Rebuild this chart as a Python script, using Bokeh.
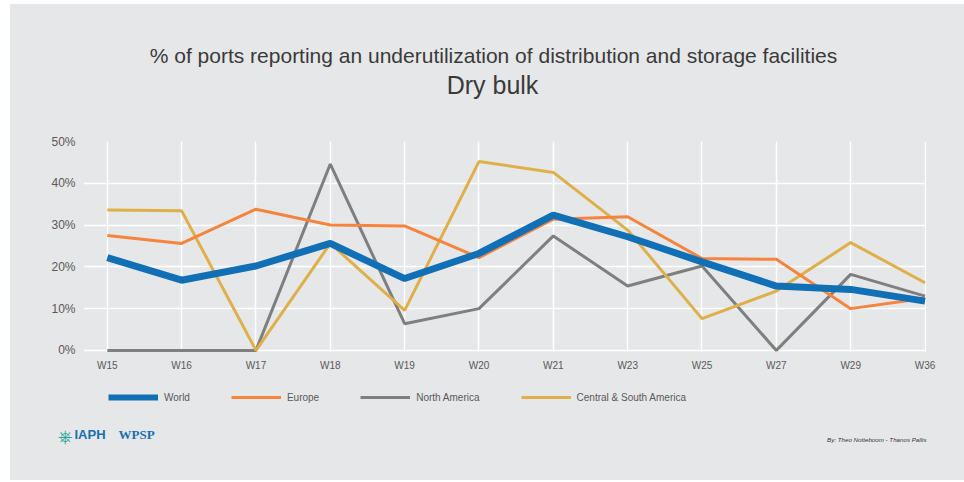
from bokeh.plotting import figure
from bokeh.layouts import column
from bokeh.models import (Range1d, FixedTicker, Legend, LegendItem, Label,
                          PrintfTickFormatter)
from bokeh.embed import file_html
from bokeh.resources import INLINE

# ---- data ----
weeks = ["W15", "W16", "W17", "W18", "W19", "W20", "W21", "W23", "W25", "W27", "W29", "W36"]
world = [22.2, 16.8, 20.2, 25.6, 17.2, 23.2, 32.4, 27.2, 21.2, 15.4, 14.6, 11.8]
europe = [27.5, 25.6, 33.8, 30.0, 29.8, 22.2, 31.4, 32.0, 22.0, 21.8, 10.0, 12.5]
north_america = [0.0, 0.0, 0.0, 44.6, 6.4, 10.0, 27.4, 15.4, 20.2, 0.0, 18.2, 13.0]
central_south = [33.6, 33.4, 0.0, 25.6, 9.6, 45.2, 42.6, 28.8, 7.6, 14.2, 25.8, 16.2]
y_ticks = [0, 10, 20, 30, 40, 50]
series_names = ["World", "Europe", "North America", "Central & South America"]

title_text = "% of ports reporting an underutilization of distribution and storage facilities"
subtitle_text = "Dry bulk"
credit_text = "By: Theo Notteboom - Thanos Pallis"

BG = "#e6e7e8"
TXT = "#595959"
FONT = "Liberation Sans"
COLORS = {"World": "#1170b5", "Europe": "#f5843f",
          "North America": "#7f7f7f", "Central & South America": "#dfb04a"}
WIDTHS = {"World": 7, "Europe": 3, "North America": 3, "Central & South America": 3}

W = 954


def blank(h):
    f = figure(width=W, height=h, output_backend="svg", toolbar_location=None,
               x_range=Range1d(0, W), y_range=Range1d(0, h), min_border=0)
    f.frame_align = False
    f.axis.visible = False
    f.grid.visible = False
    f.outline_line_color = None
    f.background_fill_color = BG
    f.border_fill_color = BG
    return f


# ---- title area ----
top = blank(127)
top.add_layout(Label(x=483, y=76, text=title_text, text_align="center",
                     text_baseline="middle", text_font=FONT,
                     text_font_size="21px", text_color="#3a3a3a"))
top.add_layout(Label(x=482, y=47, text=subtitle_text, text_align="center",
                     text_baseline="middle", text_font=FONT,
                     text_font_size="25px", text_color="#3a3a3a"))

# ---- main chart ----
xs = list(range(len(weeks)))
p = figure(width=W, height=249, output_backend="svg", toolbar_location=None,
           x_range=Range1d(-0.32, 11.02), y_range=Range1d(-0.5, 50.0),
           min_border_left=73, min_border_right=38, min_border_top=10,
           min_border_bottom=28)
p.frame_align = False
p.background_fill_color = BG
p.border_fill_color = BG
p.outline_line_color = None

p.xaxis.ticker = FixedTicker(ticks=xs)
p.xaxis.major_label_overrides = {i: w for i, w in enumerate(weeks)}
p.yaxis.ticker = FixedTicker(ticks=y_ticks)
p.yaxis.formatter = PrintfTickFormatter(format="%d%%")
for ax in (p.xaxis[0], p.yaxis[0]):
    ax.axis_line_color = None
    ax.major_tick_line_color = None
    ax.minor_tick_line_color = None
    ax.major_tick_out = 0
    ax.major_tick_in = 0
    ax.minor_tick_out = 0
    ax.minor_tick_in = 0
    ax.major_label_text_color = TXT
    ax.major_label_text_font = FONT
p.xaxis.major_label_text_font_size = "10px"
p.yaxis.major_label_text_font_size = "12px"
p.xaxis.major_label_standoff = 7
p.yaxis.major_label_standoff = 8

p.xgrid.ticker = FixedTicker(ticks=xs)
p.ygrid.ticker = FixedTicker(ticks=y_ticks)
for g in (p.xgrid[0], p.ygrid[0]):
    g.grid_line_color = "white"
    g.grid_line_width = 1.5

series = {"World": world, "Europe": europe, "North America": north_america,
          "Central & South America": central_south}
for name in ["North America", "Central & South America", "Europe", "World"]:
    p.line(xs, series[name], line_color=COLORS[name], line_width=WIDTHS[name])

# ---- bottom area: legend, logos, credit ----
bot = blank(100)
items = []
for name in series_names:
    # hidden proxy renderer, only used to draw the legend swatch
    r = bot.line(xs, series[name], line_color=COLORS[name],
                 line_width=6 if name == "World" else 3, visible=False)
    items.append(LegendItem(label=name, renderers=[r]))
legend = Legend(items=items, orientation="horizontal", location=(98, 75),
                glyph_width=50, glyph_height=16, label_height=16,
                label_standoff=6, spacing=41, padding=0, margin=0,
                border_line_color=None, background_fill_alpha=0,
                label_text_font_size="10px", label_text_color=TXT,
                label_text_font=FONT, click_policy="none")
bot.add_layout(legend, "center")

bot.add_layout(Label(x=916, y=41, text=credit_text, text_align="right",
                     text_baseline="middle", text_font=FONT,
                     text_font_style="italic", text_font_size="6.2px",
                     text_color="#333333"))
bot.add_layout(Label(x=54, y=44, text="\u2388", text_align="center",
                     text_baseline="middle", text_font="DejaVu Sans",
                     text_font_size="18px", text_color="#2aa59a"))
bot.add_layout(Label(x=64, y=46, text="IAPH", text_align="left",
                     text_baseline="middle", text_font=FONT,
                     text_font_style="bold", text_font_size="13px",
                     text_color="#1a6fb0"))
bot.add_layout(Label(x=108, y=46, text="WPSP", text_align="left",
                     text_baseline="middle", text_font="Liberation Serif",
                     text_font_style="bold", text_font_size="13px",
                     text_color="#1a6fb0"))

layout = column(top, p, bot, spacing=0)
layout.margin = (4, 0, 0, 10)
layout.styles = {"background-color": BG}

open("out.html", "w").write(file_html(layout, INLINE))
